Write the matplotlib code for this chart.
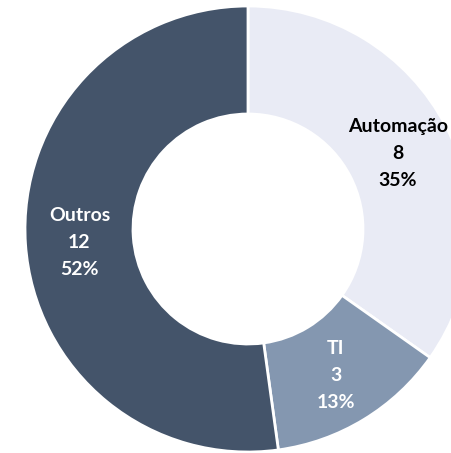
import matplotlib
matplotlib.use("Agg")
import matplotlib.pyplot as plt
import numpy as np

# --- Datos ---
categorias = ["Automação", "TI", "Outros"]
valores = [8, 3, 12]
colores = ["#E9EBF5", "#8497B0", "#44546A"]
colores_texto = ["black", "white", "white"]

total = sum(valores)

fig = plt.figure(figsize=(4.51, 4.53), dpi=100)
ax = fig.add_axes([0, 0, 1, 1])

radio = 223
radio_int = 115
centro = (248, 224)
wedges, _ = ax.pie(valores, colors=colores, startangle=90, counterclock=False,
                   center=centro, radius=radio, frame=True,
                   wedgeprops=dict(width=radio - radio_int, edgecolor="white", linewidth=2))
ax.set_xlim(0, 451)
ax.set_ylim(0, 453)
ax.set_aspect("equal")
ax.axis("off")

# Etiquetas en el centro del anillo
for w, cat, val, col in zip(wedges, categorias, valores, colores_texto):
    ang = np.deg2rad((w.theta1 + w.theta2) / 2)
    r = (radio + radio_int) / 2
    x = centro[0] + r * np.cos(ang)
    y = centro[1] + r * np.sin(ang)
    ax.text(x, y - 2, f"{cat}\n{val}\n{round(val / total * 100)}%", ha="center", va="center",
            color=col, fontsize=14, fontweight="bold", family="Lato", linespacing=1.7)

fig.savefig("out.png", dpi=100)
